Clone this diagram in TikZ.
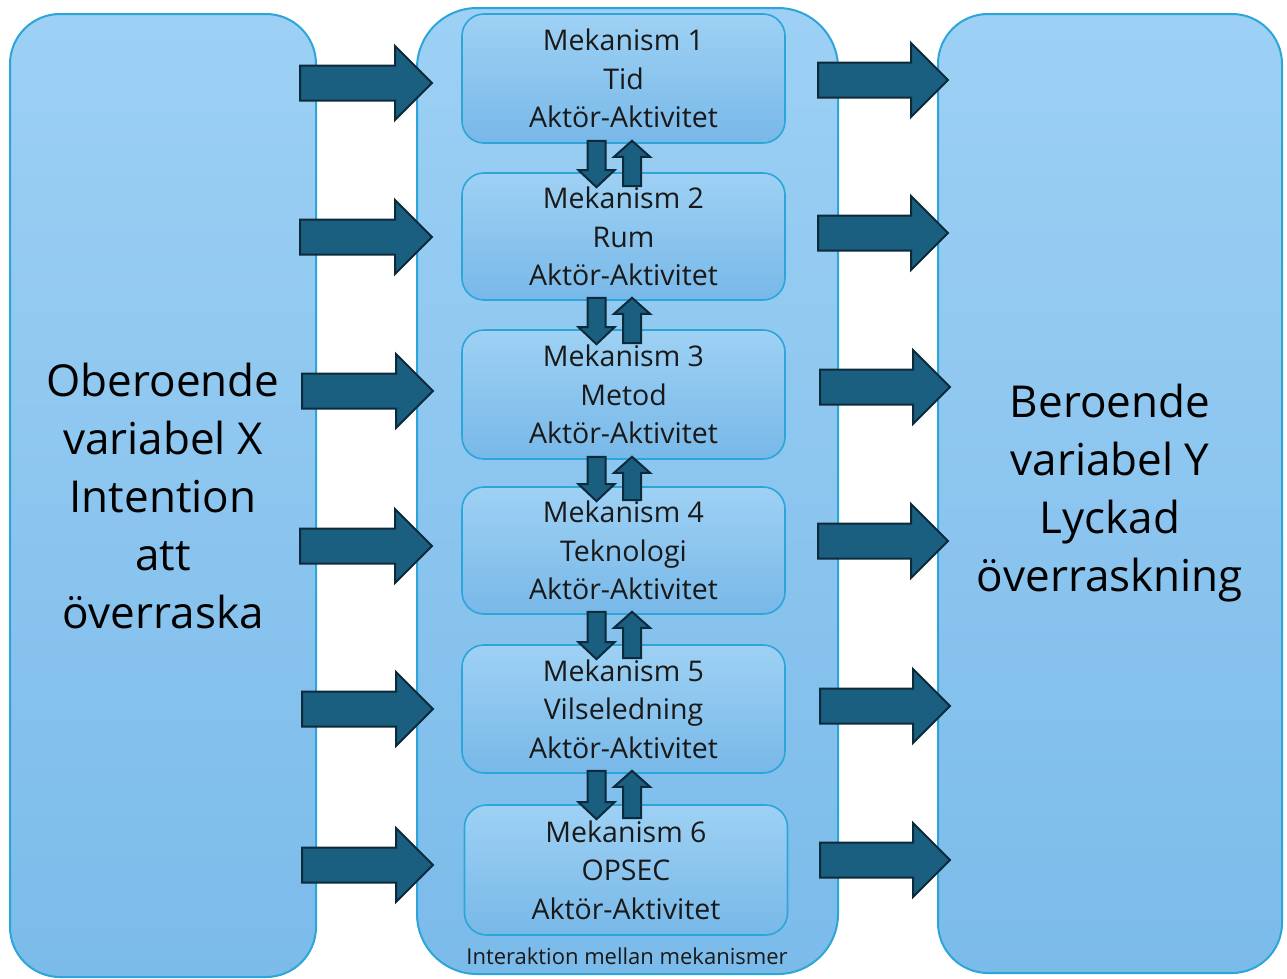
\documentclass[tikz,border=0pt]{standalone}
\usepackage{fontspec}
\setmainfont{Open Sans}
\usetikzlibrary{calc}
\begin{document}
\begin{tikzpicture}[x=1pt,y=-1pt,
  bigbox/.style={draw=boxline, line width=2pt, rounded corners=50pt, top color=boxtop, bottom color=boxbot, inner sep=0pt, align=center, text=black},
  mechbox/.style={draw=boxline, line width=1.6pt, rounded corners=22pt, top color=mechtop, bottom color=mechbot, inner sep=0pt, minimum width=323pt, align=center, font=\fontsize{28.5}{38.5}\selectfont, text=black!90},
  blockarrow/.style={fill=arrowfill, draw=arrowline, line width=2pt, line join=miter}]
\definecolor{boxtop}{HTML}{9DD0F4}
\definecolor{boxbot}{HTML}{7BBBEA}
\definecolor{mechtop}{HTML}{9ED1F4}
\definecolor{mechbot}{HTML}{78B8E8}
\definecolor{boxline}{HTML}{2CA5D8}
\definecolor{arrowfill}{HTML}{1A5E80}
\definecolor{arrowline}{HTML}{0C2A3A}
\useasboundingbox (0,0) rectangle (1287,978);
% big boxes
\node[bigbox, minimum width=306pt, minimum height=963pt, font=\fontsize{44}{58}\selectfont] (left) at (163,495.5) {Oberoende\\variabel X\\Intention\\att\\överraska};
\node[bigbox, minimum width=344pt, minimum height=959pt, font=\fontsize{44}{58}\selectfont] (right) at (1110,493.5) {Beroende\\variabel Y\\Lyckad\\överraskning};
\node[bigbox, rounded corners=60pt, minimum width=421pt, minimum height=966pt] (mid) at (627.5,491) {};
\node[font=\fontsize{22}{24}\selectfont, text=black!90] (midlabel) at (627,956) {Interaktion mellan mekanismer};
% mechanism boxes
\node[mechbox, minimum height=129pt] (m1) at (623.5,78.5) {Mekanism 1\\Tid\\Aktör-Aktivitet};
\node[mechbox, minimum height=127pt] (m2) at (623.5,236.5) {Mekanism 2\\Rum\\Aktör-Aktivitet};
\node[mechbox, minimum height=129pt] (m3) at (623.5,394.5) {Mekanism 3\\Metod\\Aktör-Aktivitet};
\node[mechbox, minimum height=127pt] (m4) at (623.5,550.5) {Mekanism 4\\Teknologi\\Aktör-Aktivitet};
\node[mechbox, minimum height=128pt] (m5) at (623.5,709) {Mekanism 5\\Vilseledning\\Aktör-Aktivitet};
\node[mechbox, minimum height=130pt] (m6) at (626,870) {Mekanism 6\\OPSEC\\Aktör-Aktivitet};
% horizontal block arrows: start x, tip x, centre y
\foreach \xa/\xb/\yc in {300/432/83, 300/432/237, 302/433/391, 300/432/546, 302/433/709, 302/433/865,
                        818/948/80, 818/948/233, 820/950/387, 818/948/541, 820/950/706, 820/950/860}{
  \draw[blockarrow] (\xa,\yc-17.5) -- (\xb-37,\yc-17.5) -- (\xb-37,\yc-37) -- (\xb,\yc) -- (\xb-37,\yc+37) -- (\xb-37,\yc+17.5) -- (\xa,\yc+17.5) -- cycle;
}
% vertical double arrows between mechanisms (canvas y grows upwards)
\foreach \u/\l in {m1/m2, m2/m3, m3/m4, m4/m5, m5/m6}{
  % down arrow
  \draw[blockarrow] let \p1=(\u.south), \p2=(\l.north) in
    (587.5pt,\y1+3pt) -- (605.5pt,\y1+3pt) -- (605.5pt,\y2+2pt) -- (614.5pt,\y2+2pt) -- (596.5pt,\y2-15pt) -- (578.5pt,\y2+2pt) -- (587.5pt,\y2+2pt) -- cycle;
  % up arrow
  \draw[blockarrow] let \p1=(\u.south), \p2=(\l.north) in
    (623pt,\y2-14pt) -- (641pt,\y2-14pt) -- (641pt,\y1-13pt) -- (650pt,\y1-13pt) -- (632pt,\y1+3pt) -- (614pt,\y1-13pt) -- (623pt,\y1-13pt) -- cycle;
}
\end{tikzpicture}
\end{document}
